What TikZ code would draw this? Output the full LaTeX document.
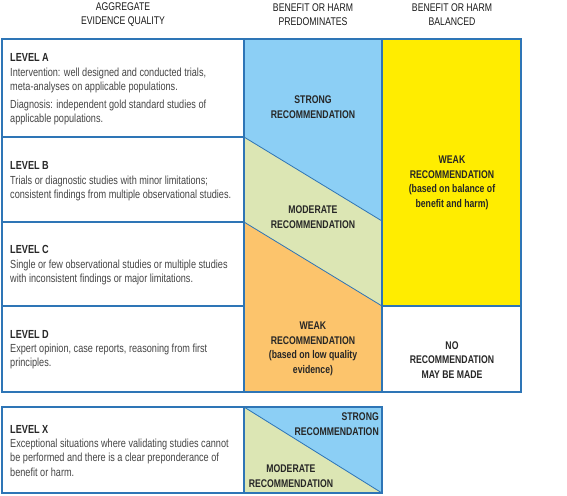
\documentclass[tikz,border=0pt]{standalone}
\usepackage{fontspec}
\setmainfont{Liberation Sans}[FakeStretch=0.78]
\usepackage{xcolor}
\definecolor{edgeblue}{HTML}{2E75B6}
\definecolor{strongblue}{HTML}{8CCFF5}
\definecolor{modgreen}{HTML}{DCE6B4}
\definecolor{weakorange}{HTML}{FCC46C}
\definecolor{weakyellow}{HTML}{FFED00}
\definecolor{txtgray}{HTML}{444444}
\newcommand{\lvlname}[1]{{\bfseries\fontsize{10}{12.2}\selectfont\color{black!85}#1}}

\begin{document}
\begin{tikzpicture}[x=0.03cm,y=-0.03cm,
    box/.style={draw=edgeblue, line width=1.1pt},
    cut/.style={draw=edgeblue, line width=0.7pt},
    head/.style={font=\fontsize{9.5}{12}\selectfont, align=center, text=black!90},
    lvl/.style={font=\fontsize{10}{12.2}\selectfont, align=left, anchor=north west, text=txtgray, inner sep=0pt},
    rec/.style={font=\bfseries\fontsize{9.5}{12.4}\selectfont, align=center, text=black!85, inner sep=0pt}]

    \useasboundingbox (0,0) rectangle (567,495);

    % Draw the column headings
    \node[head] (hq) at (123,15) {AGGREGATE\\EVIDENCE QUALITY};
    \node[head] (hp) at (313,15) {BENEFIT OR HARM\\PREDOMINATES};
    \node[head] (hb) at (452,15) {BENEFIT OR HARM\\BALANCED};

    % Draw the coloured regions of the middle column
    \fill[strongblue] (244,39) -- (382,39) -- (382,221) -- (244,137) -- cycle;
    \fill[modgreen] (244,137) -- (382,221) -- (382,306) -- (244,222) -- cycle;
    \fill[weakorange] (244,222) -- (382,306) -- (382,392) -- (244,392) -- cycle;
    \draw[cut] (244,137) -- (382,221);
    \draw[cut] (244,222) -- (382,306);

    % Draw the right column
    \fill[weakyellow] (382,39) rectangle (521,306);

    % Draw the boxes of the left column
    \foreach \ytop/\ybot in {39/137, 137/222, 222/306, 306/392} {
        \draw[box] (2,\ytop) rectangle (244,\ybot);
    }
    \draw[box] (244,39) rectangle (382,392);
    \draw[box] (382,39) rectangle (521,306);
    \draw[box] (382,306) rectangle (521,392);

    % Draw the level X row
    \fill[modgreen] (244,407) -- (382,493) -- (244,493) -- cycle;
    \fill[strongblue] (244,407) -- (382,407) -- (382,493) -- cycle;
    \draw[cut] (244,407) -- (382,493);
    \draw[box] (2,407) rectangle (244,493);
    \draw[box] (244,407) rectangle (382,493);

    % Texts of the left column
    \node[lvl] (la) at (10,53.5) {\lvlname{LEVEL A}\\
        Intervention: well designed and conducted trials,\\
        meta-analyses on applicable populations.\\[3pt]
        Diagnosis: independent gold standard studies of\\
        applicable populations.};
    \node[lvl] (lb) at (10,161.5) {\lvlname{LEVEL B}\\
        Trials or diagnostic studies with minor limitations;\\
        consistent findings from multiple observational studies.};
    \node[lvl] (lc) at (10,245.5) {\lvlname{LEVEL C}\\
        Single or few observational studies or multiple studies\\
        with inconsistent findings or major limitations.};
    \node[lvl] (ld) at (10,330) {\lvlname{LEVEL D}\\
        Expert opinion, case reports, reasoning from first\\
        principles.};
    \node[lvl] (lx) at (10,425) {\lvlname{LEVEL X}\\
        Exceptional situations where validating studies cannot\\
        be performed and there is a clear preponderance of\\
        benefit or harm.};

    % Texts of the recommendations
    \node[rec] (strong) at (313,107) {STRONG\\RECOMMENDATION};
    \node[rec] (moderate) at (313,217) {MODERATE\\RECOMMENDATION};
    \node[rec] (weaklow) at (313,349) {WEAK\\RECOMMENDATION\\(based on low quality\\evidence)};
    \node[rec] (weakbal) at (452,183) {WEAK\\RECOMMENDATION\\(based on balance of\\benefit and harm)};
    \node[rec] (norec) at (452,360) {NO\\RECOMMENDATION\\MAY BE MADE};
    \node[rec, align=right, anchor=east] (xstrong) at (379,424) {STRONG\\RECOMMENDATION};
    \node[rec] (xmoderate) at (291,476) {MODERATE\\RECOMMENDATION};

\end{tikzpicture}
\end{document}
